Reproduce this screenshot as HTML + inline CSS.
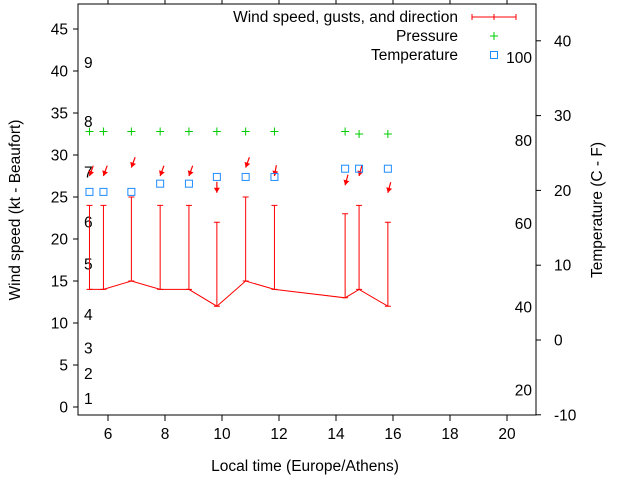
<!DOCTYPE html>
<html><head><meta charset="utf-8"><style>
body{margin:0;background:#fff}
svg{display:block;font-family:"Liberation Sans",sans-serif}
</style></head><body>
<svg id="c" width="640" height="480">
<rect x="78" y="4" width="458" height="411" fill="none" stroke="#000"/>
<g id="ax"></g>
<g id="marks"></g>
<text x="20" y="210" font-size="15.5" text-anchor="middle" transform="rotate(-90 20 210)">Wind speed (kt - Beaufort)</text>
<text x="305" y="471" font-size="15.5" text-anchor="middle">Local time (Europe/Athens)</text>
<text x="602" y="210" font-size="15.5" text-anchor="middle" transform="rotate(-90 602 210)">Temperature (C - F)</text>
<g font-size="15.5">
<text x="458" y="22" text-anchor="end">Wind speed, gusts, and direction</text>
<path d="M472 17H516M472 14V20M494 14V20M516 14V20" stroke="#f00"/>
<text x="458" y="41" text-anchor="end">Pressure</text>
<path d="M490 36H498M494 32V40" stroke="#0c0"/>
<text x="458" y="60" text-anchor="end">Temperature</text>
<rect x="490.5" y="51.5" width="7" height="7" fill="none" stroke="#1e8cff"/>
</g>
</svg>
<script>
const hours=[5.35,5.84,6.82,7.83,8.84,9.82,10.83,11.84,14.32,14.81,15.82];
const speed=[14,14,15,14,14,12,15,14,13,14,12];
const gust=[24,24,25,24,24,22,25,24,23,24,22];
const dirDeg=[20,20,20,20,20,0,20,10,15,15,15];
const arrowKt=[27.5,27.5,28.5,27.5,27.5,25.5,28.5,27.5,26.4,27.5,25.5];
const pressure=[32.8,32.8,32.8,32.8,32.8,32.8,32.8,32.8,32.8,32.5,32.5];
const tempC=[19.8,19.8,19.8,20.9,20.9,21.8,21.8,21.8,22.9,22.9,22.9];
const yTicks=[0,5,10,15,20,25,30,35,40,45];
const xTicks=[6,8,10,12,14,16,18,20];
const cTicks=[-10,0,10,20,30,40];
const fTicks=[20,40,60,80,100];
const beaufort=[[1,1],[2,4],[3,7],[4,11],[5,17],[6,22],[7,28],[8,34],[9,41]];
const X=h=>108+(h-6)*28.5, Y=k=>407-k*8.4, YC=c=>340-c*7.48, YF=f=>YC((f-32)*5/9);
const NS="http://www.w3.org/2000/svg";
function mk(p,t,a){const e=document.createElementNS(NS,t);for(const k in a)e.setAttribute(k,a[k]);p.appendChild(e);return e;}
const ax=document.getElementById('ax'), m=document.getElementById('marks');
yTicks.forEach(v=>{const l=mk(ax,'line',{x1:73,x2:78,y1:Y(v),y2:Y(v),stroke:'#000'});


const t=mk(ax,'text',{x:68,y:Y(v)+5.5,'font-size':15.5,'text-anchor':'end'});t.textContent=v;

});
xTicks.forEach(v=>{const l=mk(ax,'path',{d:`M${X(v)} 415V421M${X(v)} 4V-2`,stroke:'#000'});


const t=mk(ax,'text',{x:X(v),y:439,'font-size':15.5,'text-anchor':'middle'});t.textContent=v;

});
cTicks.forEach(v=>{const l=mk(ax,'line',{x1:536,x2:541,y1:YC(v),y2:YC(v),stroke:'#000'});


const t=mk(ax,'text',{x:554,y:YC(v)+5.5,'font-size':15.5});t.textContent=v;

});
fTicks.forEach(v=>{const t=mk(ax,'text',{x:532,y:YF(v)+5.5,'font-size':15.5,'text-anchor':'end'});t.textContent=v;

});
beaufort.forEach(b=>{const t=mk(ax,'text',{x:84,y:Y(b[1])+5.5,'font-size':15.5});t.textContent=b[0];

});
const pl=mk(m,'polyline',{points:hours.map((h,i)=>X(h)+','+Y(speed[i])).join(' '),fill:'none',stroke:'#f00'});


hours.forEach((h,i)=>{const x=X(h);
const e=mk(m,'path',{d:`M${x} ${Y(speed[i])}V${Y(gust[i])}M${x-3} ${Y(gust[i])}H${x+3}M${x-3} ${Y(speed[i])}H${x+3}`,stroke:'#f00'});


const r=dirDeg[i]*Math.PI/180, hy=Y(arrowKt[i]), L=11, sx=Math.sin(r), cy=Math.cos(r), tx=x+L*sx, ty=hy-L*cy;
const a=mk(m,'path',{d:`M${tx} ${ty}L${x} ${hy}`,stroke:'#f00',fill:'none','stroke-width':1.2});


const bx=x+5*sx, by=hy-5*cy, px=cy*3, py=sx*3;
const hd=mk(m,'path',{d:`M${x} ${hy}L${bx-px} ${by-py}L${bx+px} ${by+py}Z`,fill:'#f00'});


const p=mk(m,'path',{d:`M${x-4} ${Y(pressure[i])}H${x+4}M${x} ${Y(pressure[i])-4}V${Y(pressure[i])+4}`,stroke:'#0c0'});


const s=mk(m,'rect',{x:x-3.5,y:YC(tempC[i])-3.5,width:7,height:7,fill:'none',stroke:'#1e8cff'});

});
</script>
</body></html>
